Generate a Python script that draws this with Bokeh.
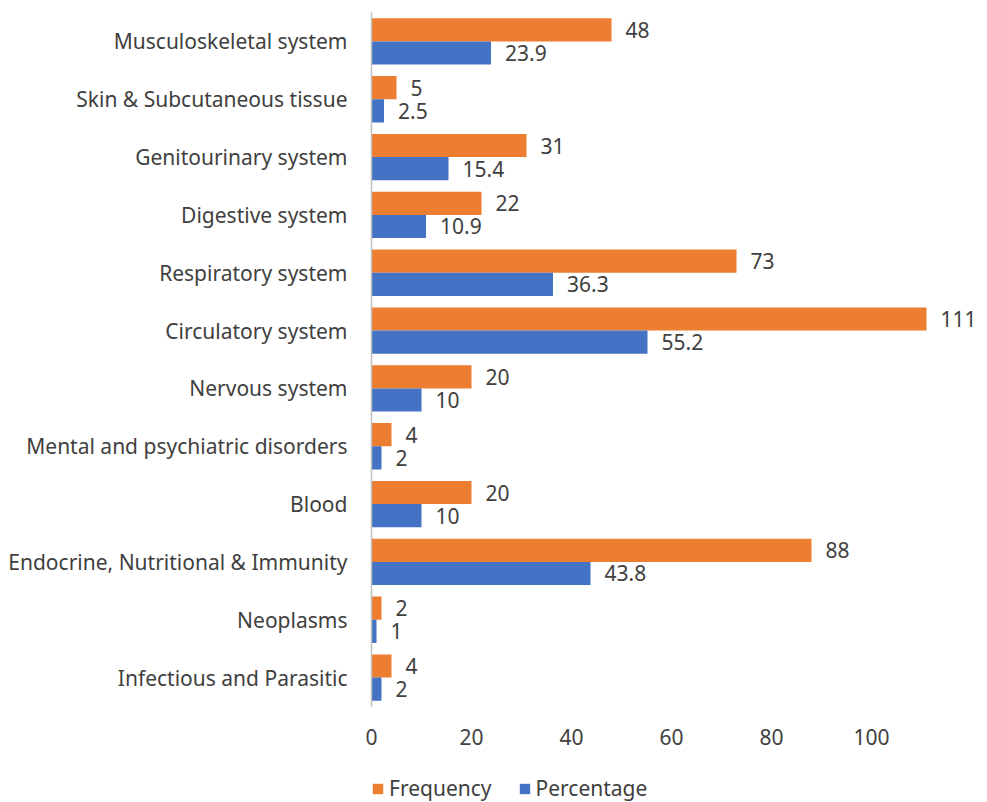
from bokeh.plotting import figure
from bokeh.models import ColumnDataSource, FactorRange, Legend, LegendItem, FixedTicker, Range1d
from bokeh.layouts import column
from bokeh.transform import dodge
from bokeh.core.properties import value
from bokeh.embed import file_html
from bokeh.resources import INLINE

categories = [
    "Musculoskeletal system",
    "Skin & Subcutaneous tissue",
    "Genitourinary system",
    "Digestive system",
    "Respiratory system",
    "Circulatory system",
    "Nervous system",
    "Mental and psychiatric disorders",
    "Blood",
    "Endocrine, Nutritional & Immunity",
    "Neoplasms",
    "Infectious and Parasitic",
]
frequency = [48, 5, 31, 22, 73, 111, 20, 4, 20, 88, 2, 4]
percentage = [23.9, 2.5, 15.4, 10.9, 36.3, 55.2, 10, 2, 10, 43.8, 1, 2]
freq_labels = ["48", "5", "31", "22", "73", "111", "20", "4", "20", "88", "2", "4"]
pct_labels = ["23.9", "2.5", "15.4", "10.9", "36.3", "55.2", "10", "2", "10", "43.8", "1", "2"]
series_names = ["Frequency", "Percentage"]
x_ticks = [0, 20, 40, 60, 80, 100]

ORANGE = "#ED7D31"
BLUE = "#4472C4"
TEXT = "#404040"
FONT = "Noto Sans"
FS = "21px"

src = ColumnDataSource(dict(cat=categories, freq=frequency, pct=percentage,
                            fl=freq_labels, pl=pct_labels))

p = figure(width=987, height=766, output_backend="svg", toolbar_location=None,
           y_range=FactorRange(factors=list(reversed(categories)), range_padding=0),
           x_range=Range1d(0, 123.2))
p.min_border_left = 371
p.min_border_right = 0
p.min_border_top = 12
p.min_border_bottom = 60
p.outline_line_color = None
p.xgrid.grid_line_color = None
p.ygrid.grid_line_color = None
p.background_fill_color = "white"
p.border_fill_color = "white"

p.hbar(y=dodge("cat", 0.2, range=p.y_range), right="freq", left=0, height=0.4,
       source=src, fill_color=ORANGE, line_color=None)
p.hbar(y=dodge("cat", -0.2, range=p.y_range), right="pct", left=0, height=0.4,
       source=src, fill_color=BLUE, line_color=None)

p.text(x="freq", y=dodge("cat", 0.2, range=p.y_range), text="fl", source=src,
       x_offset=14, text_baseline="middle", text_align="left",
       text_font=value(FONT), text_font_size=FS, text_color=TEXT)
p.text(x="pct", y=dodge("cat", -0.2, range=p.y_range), text="pl", source=src,
       x_offset=14, text_baseline="middle", text_align="left",
       text_font=value(FONT), text_font_size=FS, text_color=TEXT)

xa = p.xaxis[0]
xa.ticker = FixedTicker(ticks=x_ticks)
xa.axis_line_color = None
xa.major_tick_line_color = None
xa.minor_tick_line_color = None
xa.major_label_standoff = 16
xa.major_label_text_font = FONT
xa.major_label_text_font_size = FS
xa.major_label_text_color = TEXT

ya = p.yaxis[0]
ya.axis_line_color = "#BFBFBF"
ya.axis_line_width = 1.5
ya.major_tick_line_color = None
ya.minor_tick_line_color = None
ya.major_label_standoff = 18
ya.major_label_text_font = FONT
ya.major_label_text_font_size = FS
ya.major_label_text_color = TEXT

# legend strip (proxy renderers of zero width, only used for legend swatches)
lg = figure(width=987, height=36, output_backend="svg", toolbar_location=None,
            x_range=Range1d(0, 1), y_range=Range1d(0, 1),
            x_axis_location=None, y_axis_location=None)
lg.min_border_left = 326
lg.min_border_right = 0
lg.min_border_top = 0
lg.min_border_bottom = 0
lg.outline_line_color = None
lg.xgrid.grid_line_color = None
lg.ygrid.grid_line_color = None
lr1 = lg.hbar(y=[0.5], left=[0], right=[0], height=1, fill_color=ORANGE, line_color=None)
lr2 = lg.hbar(y=[0.5], left=[0], right=[0], height=1, fill_color=BLUE, line_color=None)
legend = Legend(items=[LegendItem(label=series_names[0], renderers=[lr1]),
                       LegendItem(label=series_names[1], renderers=[lr2])],
                orientation="horizontal", location="bottom_left",
                label_text_font=FONT, label_text_font_size=FS,
                label_text_color=TEXT, glyph_width=13, glyph_height=13,
                label_standoff=5, spacing=26, border_line_color=None,
                background_fill_alpha=0, margin=0, padding=2)
lg.add_layout(legend, "center")

layout = column(p, lg, spacing=0)
open("out.html", "w").write(file_html(layout, INLINE))
